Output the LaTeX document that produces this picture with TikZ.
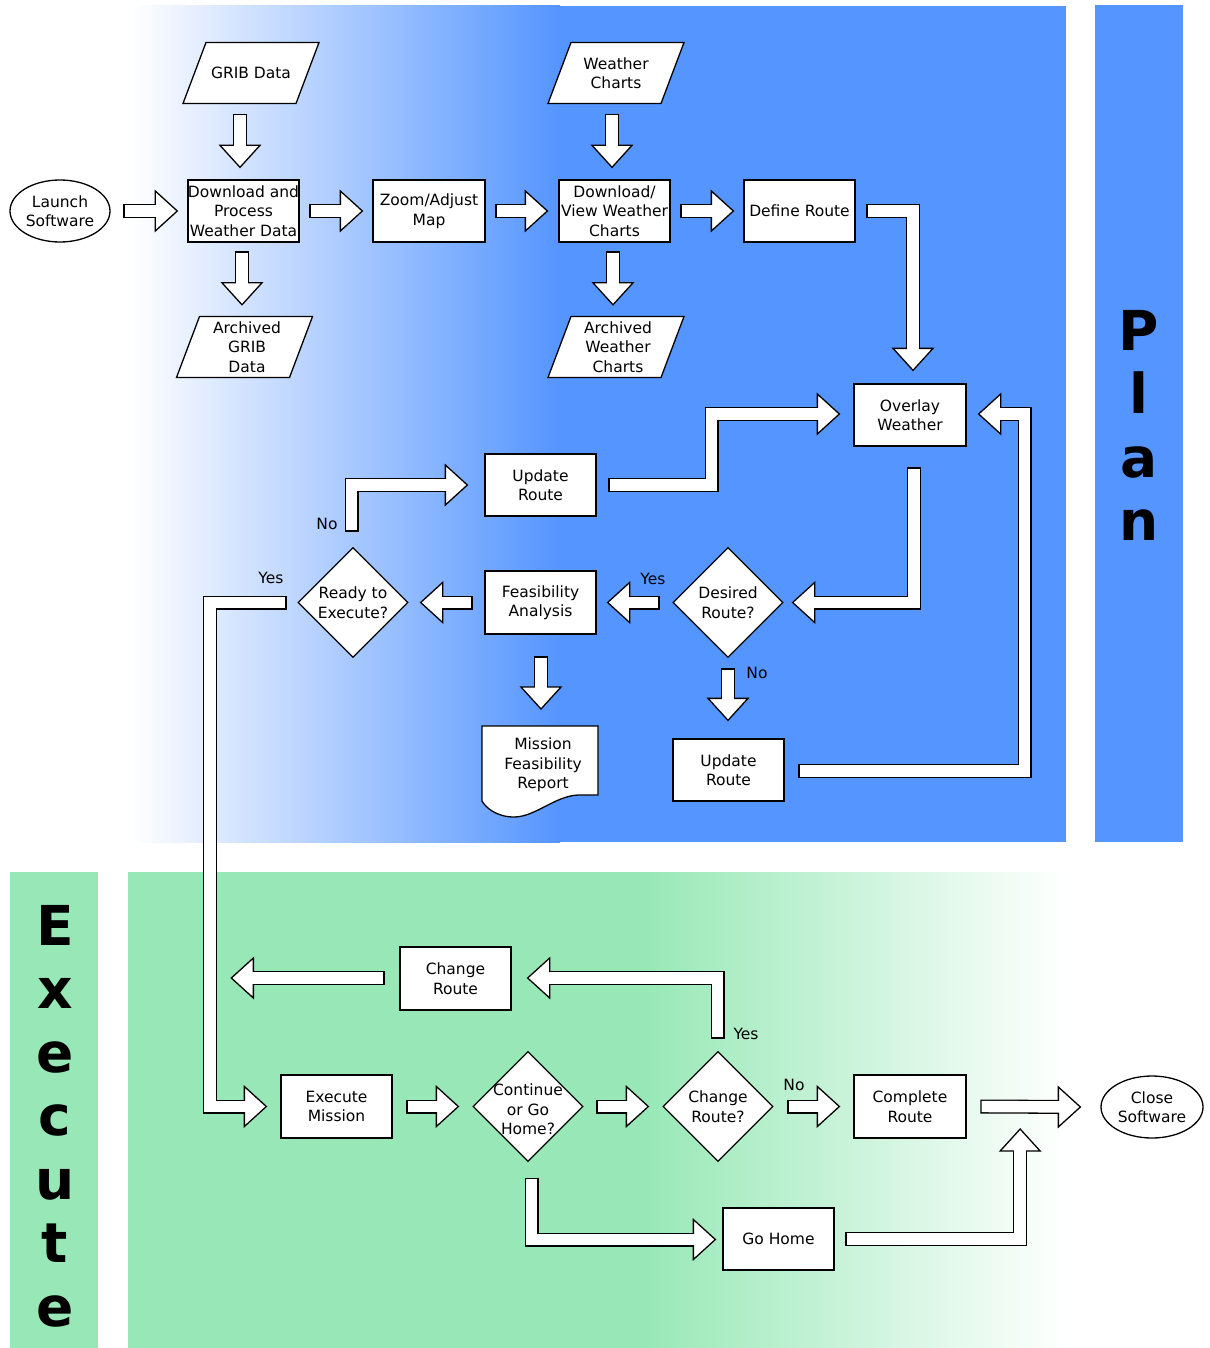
\documentclass[tikz,border=0pt]{standalone}
\usepackage{fontspec}
\setmainfont{DejaVu Sans}
\usetikzlibrary{shapes.geometric,calc}
\definecolor{planblue}{RGB}{85,149,255}
\definecolor{execgreen}{RGB}{151,232,182}
\newcommand\BA[2]{%
  \draw[line width=14, shorten <=-1.3, shorten >=19] #2;
  \path #2 coordinate (batip);
  \draw[fill=white, line width=1.3, shift={(batip)}, rotate=#1] (0,0) -- (-22,20) -- (-22,-20) -- cycle;
  \draw[white, line width=11.4, shorten >=20.5] #2;
}
\tikzset{
  txt/.style={font=\fontsize{15.5}{19.5}\selectfont, align=center, inner sep=0},
  box/.style={txt, draw, fill=white, line width=1.3, minimum width=111, minimum height=62},
  oval/.style={txt, ellipse, draw, fill=white, line width=1.3, minimum width=100, minimum height=62},
  dia/.style={diamond, draw, fill=white, line width=1.3, minimum width=110, minimum height=110, inner sep=0},
  big/.style={font=\fontsize{55}{64}\selectfont\bfseries, anchor=base, inner sep=0},
  para/.style={draw, fill=white, line width=1.3},
}
\begin{document}
\begin{tikzpicture}[x=1pt, y=-1pt]
\useasboundingbox (0,0) rectangle (1209,1348);
\fill[white] (0,0) rectangle (1209,1348);
% backgrounds
\shade[left color=white, right color=planblue] (130,6) rectangle (560,842);
\fill[planblue] (559,6) rectangle (1066,842);
\fill[planblue] (1095,5) rectangle (1183,842);
\fill[execgreen] (128,872) rectangle (641,1348);
\shade[left color=execgreen, right color=white] (640,872) rectangle (1066,1348);
\fill[execgreen] (10,872) rectangle (98,1348);
\foreach \lettr/\yy [count=\i] in {P/350,l/413.5,a/477,n/540.5}
  \node[big] (plan\i) at (1139,\yy) {\lettr};
\foreach \lettr/\yy [count=\i] in {E/945,x/1008.5,e/1072,c/1135.5,u/1199,t/1262.5,e/1326}
  \node[big] (exec\i) at (55,\yy) {\lettr};
% parallelograms
\draw[para, shift={(251,73)}] (-68,30.5) -- (-45,-30.5) -- (68,-30.5) -- (45,30.5) -- cycle;
\node[txt, minimum height=61] (grib) at (251,73) {GRIB Data};
\draw[para, shift={(616,73)}] (-68,30.5) -- (-45,-30.5) -- (68,-30.5) -- (45,30.5) -- cycle;
\node[txt, minimum height=61] (wch) at (616,73) {Weather\\Charts};
\draw[para, shift={(244.5,347)}] (-68,30.5) -- (-45,-30.5) -- (68,-30.5) -- (45,30.5) -- cycle;
\node[txt, minimum height=61] (agrib) at (247,347) {Archived\\GRIB\\Data};
\draw[para, shift={(616,347)}] (-68,30.5) -- (-45,-30.5) -- (68,-30.5) -- (45,30.5) -- cycle;
\node[txt, minimum height=61] (awch) at (618,347) {Archived\\Weather\\Charts};
% document shape
\draw[para] (482,726) -- (598,726) -- (598,795) -- (578,795) .. controls (555,796) and (535,817) .. (514,817) .. controls (497,817) and (486,808) .. (482,801) -- cycle;
\coordinate (reptop) at (540,726);
\node[txt] (report) at (543,765) {Mission\\Feasibility\\Report};
% nodes
\node[oval] (launch) at (60,211) {Launch\\Software};
\node[box] (dl) at (243.5,211) {Download and\\Process\\Weather Data};
\node[box, minimum width=112] (zoom) at (429,211) {Zoom/Adjust\\Map};
\node[box] (dv) at (614.5,211) {Download/\\View Weather\\Charts};
\node[box] (def) at (799.5,211) {Define Route};
\node[box, minimum width=112] (ov) at (910,415) {Overlay\\Weather};
\node[box] (upd1) at (540.5,485) {Update\\Route};
\node[box, minimum height=63] (feas) at (540.5,602.5) {Feasibility\\Analysis};
\node[dia, label={[txt]center:{Ready to\\Execute?}}] (ready) at (353,602.5) {};
\node[dia, label={[txt]center:{Desired\\Route?}}] (desired) at (728,602.5) {};
\node[box] (upd2) at (728.5,770) {Update\\Route};
\node[box, minimum height=63] (chg) at (455.5,978.5) {Change\\Route};
\node[box, minimum height=63] (exe) at (336.5,1106.5) {Execute\\Mission};
\node[dia, label={[txt, yshift=-3]center:{Continue\\or Go\\Home?}}] (cont) at (528,1106.5) {};
\node[dia, label={[txt]center:{Change\\Route?}}] (chq) at (718,1106.5) {};
\node[box, minimum width=112, minimum height=63] (comp) at (910,1106.5) {Complete\\Route};
\node[oval, minimum width=102] (close) at (1152,1107) {Close\\Software};
\node[box] (home) at (778.5,1239) {Go Home};
% labels
\node[txt] (lno1) at (327,524) {No};
\node[txt] (lyes1) at (271,578) {Yes};
\node[txt] (lyes2) at (653,579) {Yes};
\node[txt] (lno2) at (757,673) {No};
\node[txt] (lyes3) at (746,1034) {Yes};
\node[txt] (lno3) at (794,1085) {No};
% block arrows
\BA{0}{($(launch.east)+(14,0)$) -- ($(dl.west)+(-10,0)$)}
\BA{0}{($(dl.east)+(11,0)$) -- ($(zoom.west)+(-10,0)$)}
\BA{0}{($(zoom.east)+(11,0)$) -- ($(dv.west)+(-11,0)$)}
\BA{0}{($(dv.east)+(11,0)$) -- ($(def.west)+(-10,0)$)}
\BA{270}{($(grib.south)+(-11,11.5)$) -- ($(dl.north)+(-3.5,-12)$)}
\BA{270}{($(wch.south)+(-4,11.5)$) -- ($(dv.north)+(-2.5,-12)$)}
\BA{270}{($(dl.south)+(-1.5,10)$) -- ($(agrib.north)+(-5,-11.5)$)}
\BA{270}{($(dv.south)+(-1.5,10)$) -- ($(awch.north)+(-5,-11.5)$)}
\BA{270}{($(def.east)+(12,0)$) -| ($(ov.north)+(3,-13)$)}
\BA{0}{($(upd1.east)+(13,0)$) -- ++(102,0) |- ($(ov.west)+(-14,-1)$)}
\BA{180}{($(upd2.east)+(15,1)$) -- ++(225,0) |- ($(ov.east)+(12,-1)$)}
\BA{180}{($(ov.south)+(4,22)$) |- ($(desired.east)+(9,0)$)}
\BA{180}{($(desired.west)+(-14,0)$) -- ($(feas.east)+(11,0)$)}
\BA{180}{($(feas.west)+(-13,0)$) -- ($(ready.east)+(12,0)$)}
\BA{0}{($(ready.north)+(-1.5,-16.5)$) |- ($(upd1.west)+(-17,0)$)}
\BA{0}{($(ready.west)+(-12,0)$) -- ++(-75.5,0) |- ($(exe.west)+(-14,0)$)}
\BA{270}{($(feas.south)+(0.5,23)$) -- ($(reptop)+(1,-17)$)}
\BA{270}{($(desired.south)+(0,11.5)$) -- ($(upd2.north)+(-0.5,-18)$)}
\BA{0}{($(exe.east)+(15,0)$) -- ($(cont.west)+(-14,0)$)}
\BA{0}{($(cont.east)+(14,0)$) -- ($(chq.west)+(-14,0)$)}
\BA{0}{($(chq.east)+(15,0)$) -- ($(comp.west)+(-14,0)$)}
\BA{0}{($(comp.east)+(15,0)$) -- ($(close.west)+(-20,0)$)}
\BA{180}{($(chq.north)+(-0.5,-13.5)$) |- ($(chg.east)+(16,-0.5)$)}
\BA{180}{($(chg.west)+(-16,-0.5)$) -- ($(chg.west)+(-168,-0.5)$)}
\BA{0}{($(cont.south)+(3.5,17)$) |- ($(home.west)+(-7,0.5)$)}
\BA{90}{($(home.east)+(12,0)$) -| ($(comp.east)+(53.5,22.5)$)}
\end{tikzpicture}
\end{document}
